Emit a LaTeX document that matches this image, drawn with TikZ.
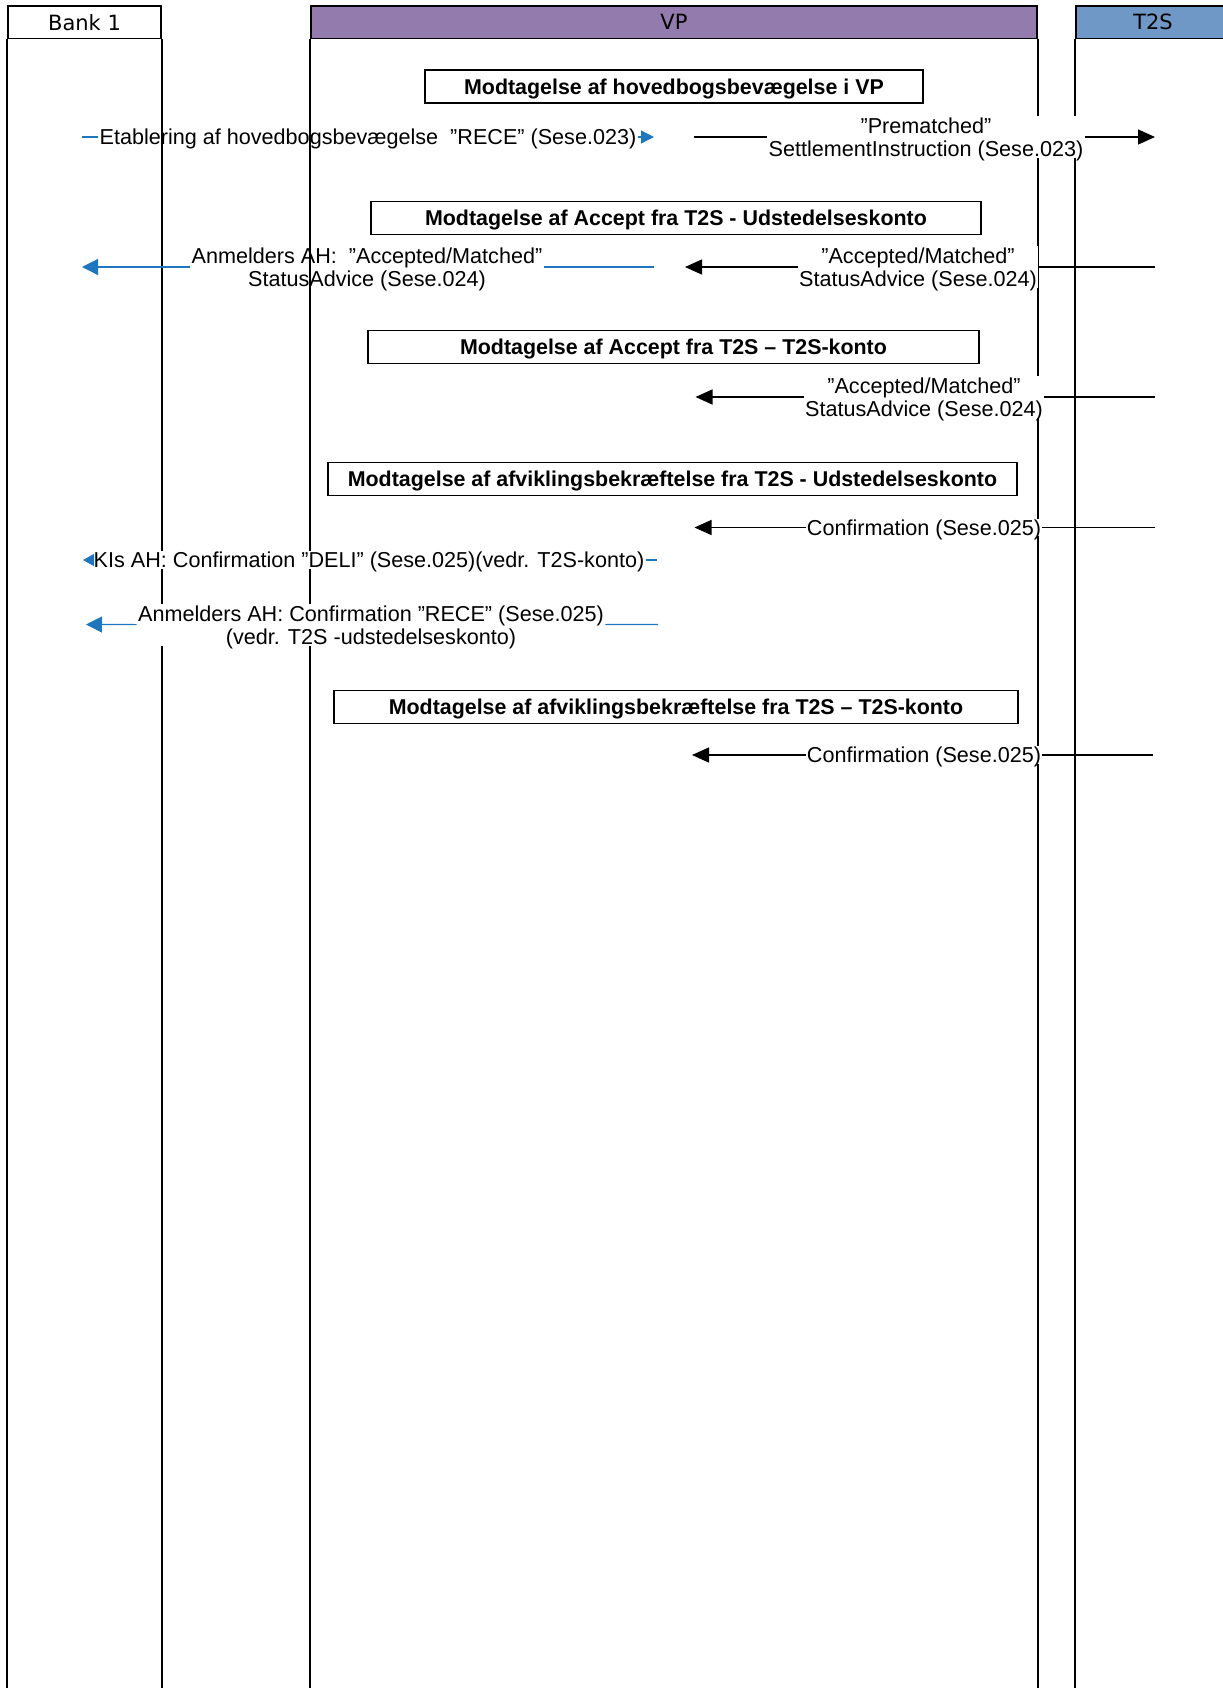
\documentclass[tikz,border=0pt]{standalone}
\usepackage{fontspec}
\setmainfont{Liberation Sans}
\newfontfamily\lanefont{DejaVu Sans}
\usetikzlibrary{arrows.meta,positioning}
\definecolor{vpc}{HTML}{937BAD}
\definecolor{tsc}{HTML}{7098C6}
\definecolor{bluec}{HTML}{1E77BE}
\tikzset{
  head/.style={draw=black,line width=0.8pt,inner sep=0pt,minimum height=16.25pt,font=\lanefont\fontsize{10.5}{12}\selectfont},
  lane/.style={draw=black,line width=0.85pt},
  phase/.style={draw=black,line width=0.8pt,fill=white,inner sep=0pt,minimum height=16.5pt,text depth=0pt,font=\bfseries\fontsize{10.7}{12}\selectfont},
  msg/.style={align=center,inner sep=0.5pt,text depth=0pt,font=\fontsize{10.8}{11.8}\selectfont},
  ln/.style={line width=0.7pt,black},
  ar/.style={-{Triangle[length=8.5pt,width=7.5pt]},line width=0.7pt,black},
  bln/.style={line width=0.6pt,bluec},
  bar/.style={-{Triangle[length=8pt,width=8pt]},line width=0.6pt,bluec}
}
\begin{document}
\begin{tikzpicture}[x=0.5pt,y=-0.5pt]
\useasboundingbox (0,0) rectangle (1222,1688);
\coordinate (bot) at (0,1688);
\node[head,minimum width=76.5pt] (bank) at (84.5,22.25) {Bank 1};
\node[head,fill=vpc,minimum width=363pt] (vp) at (674,22.25) {VP};
\node[head,fill=tsc,minimum width=77pt] (tts) at (1153,22.25) {T2S};
\draw[lane] (bank.south west) -- (bank.south west |- bot);
\draw[lane] (bank.south east) -- (bank.south east |- bot);
\draw[lane] (vp.south west) -- (vp.south west |- bot);
\draw[lane] (vp.south east) -- (vp.south east |- bot);
\draw[lane] (tts.south west) -- (tts.south west |- bot);

\node[phase,minimum width=249pt] (ph1) at (674,86.5) {Modtagelse af hovedbogsbevægelse i VP};
\node[phase,minimum width=305pt] (ph2) at (676,218) {Modtagelse af Accept fra T2S - Udstedelseskonto};
\node[phase,minimum width=305.5pt] (ph3) at (673.5,347) {Modtagelse af Accept fra T2S – T2S-konto};
\node[phase,minimum width=344.5pt] (ph4) at (672.5,479) {Modtagelse af afviklingsbekræftelse fra T2S - Udstedelseskonto};
\node[phase,minimum width=342pt] (ph5) at (676,707) {Modtagelse af afviklingsbekræftelse fra T2S – T2S-konto};

\coordinate (m1s) at (82,137); \coordinate (m1e) at (654,137);
\node[msg] (m1) at (368,137) {Etablering af hovedbogsbevægelse~ ”RECE” (Sese.023)};
\draw[bln] (m1s) -- (m1);
\draw[bar,-{Triangle[length=6.5pt,width=6.5pt]}] (m1) -- (m1e);

\coordinate (m2s) at (694,137); \coordinate (m2e) at (1155,137);
\node[msg,fill=white] (m2) at (926,137) {”Prematched”\\SettlementInstruction (Sese.023)};
\draw[ln] (m2s) -- (m2);
\draw[ar] (m2) -- (m2e);

\coordinate (m3s) at (654,267); \coordinate (m3e) at (82,267);
\node[msg] (m3) at (367,267) {Anmelders AH:~ ”Accepted/Matched”\\StatusAdvice (Sese.024)};
\draw[bln] (m3s) -- (m3);
\draw[bar] (m3) -- (m3e);

\coordinate (m4s) at (1155,267); \coordinate (m4e) at (685,267);
\node[msg,fill=white] (m4) at (918,267) {”Accepted/Matched”\\StatusAdvice (Sese.024)};
\draw[ln] (m4s) -- (m4);
\draw[ar] (m4) -- (m4e);

\coordinate (m5s) at (1155,397); \coordinate (m5e) at (695.5,397);
\node[msg,fill=white] (m5) at (924,397) {”Accepted/Matched”\\StatusAdvice (Sese.024)};
\draw[ln] (m5s) -- (m5);
\draw[ar] (m5) -- (m5e);

\coordinate (m6s) at (1155,527.5); \coordinate (m6e) at (694.5,527.5);
\node[msg,fill=white] (m6) at (924,527.5) {Confirmation (Sese.025)};
\draw[ln] (m6s) -- (m6);
\draw[ar] (m6) -- (m6e);

\coordinate (m7s) at (657,560); \coordinate (m7e) at (83,560);
\node[msg,fill=white] (m7) at (369,560) {KIs AH: Confirmation ”DELI” (Sese.025)(vedr. T2S-konto)};
\draw[bln] (m7s) -- (m7);
\draw[bar,-{Triangle[length=5.5pt,width=6pt]}] (m7) -- (m7e);

\coordinate (m8s) at (658,624.5); \coordinate (m8e) at (86,624.5);
\node[msg,fill=white] (m8) at (371,625) {Anmelders AH: Confirmation ”RECE” (Sese.025)\\(vedr. T2S -udstedelseskonto)};
\draw[bln] (m8s) -- (m8);
\draw[bar] (m8) -- (m8e);

\coordinate (m9s) at (1153,755); \coordinate (m9e) at (692,755);
\node[msg,fill=white] (m9) at (924,755) {Confirmation (Sese.025)};
\draw[ln] (m9s) -- (m9);
\draw[ar] (m9) -- (m9e);
\end{tikzpicture}
\end{document}
